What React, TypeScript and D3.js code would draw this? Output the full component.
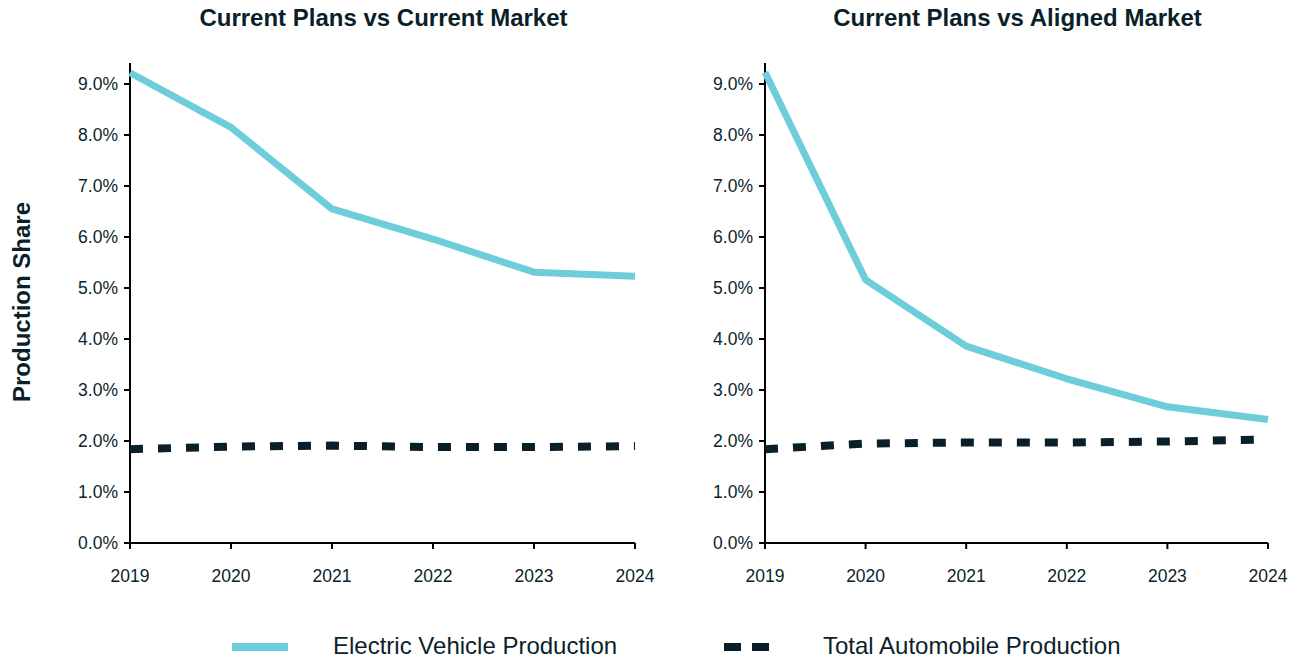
import React from "react";
import * as d3 from "d3";

const years = [2019, 2020, 2021, 2022, 2023, 2024];
const yTicks = [0, 1, 2, 3, 4, 5, 6, 7, 8, 9];
const leftEV = [9.22, 8.15, 6.55, 5.96, 5.31, 5.23];
const leftTotal = [1.84, 1.89, 1.91, 1.88, 1.88, 1.9];
const rightEV = [9.23, 5.16, 3.86, 3.22, 2.67, 2.42];
const rightTotal = [1.84, 1.95, 1.97, 1.97, 1.99, 2.03];
const titles = ["Current Plans vs Current Market", "Current Plans vs Aligned Market"];
const seriesNames = ["Electric Vehicle Production", "Total Automobile Production"];

const EV_COLOR = "#6ecdda";
const DARK = "#0b1f2a";
const FONT = "'Liberation Sans', Arial, sans-serif";

function Panel({ x0, x1, title, ev, total }: { x0: number; x1: number; title: string; ev: number[]; total: number[] }) {
  const x = d3.scalePoint<number>().domain(years).range([x0, x1]);
  const y = d3.scaleLinear().domain([0, 9]).range([543, 84]);
  const line = d3
    .line<number>()
    .x((_, i) => x(years[i])!)
    .y((d) => y(d));
  return (
    <g>
      <text x={(x0 + x1) / 2 + 1} y={26} textAnchor="middle" fontSize={24} fontWeight="bold" fill={DARK} fontFamily={FONT}>
        {title}
      </text>
      <line x1={x0} x2={x0} y1={63} y2={543} stroke="#000" strokeWidth={2} />
      <line x1={x0} x2={x1} y1={543} y2={543} stroke="#000" strokeWidth={2} />
      {yTicks.map((t) => (
        <g key={t}>
          <line x1={x0 - 6} x2={x0} y1={y(t)} y2={y(t)} stroke="#000" strokeWidth={2} />
          <text x={x0 - 12} y={y(t)} dy="0.35em" textAnchor="end" fontSize={17.5} fill={DARK} fontFamily={FONT}>
            {t.toFixed(1) + "%"}
          </text>
        </g>
      ))}
      {years.map((yr) => (
        <g key={yr}>
          <line x1={x(yr)} x2={x(yr)} y1={543} y2={549} stroke="#000" strokeWidth={2} />
          <text x={x(yr)} y={582} textAnchor="middle" fontSize={17.5} fill={DARK} fontFamily={FONT}>
            {yr}
          </text>
        </g>
      ))}
      <path d={line(total)!} fill="none" stroke={DARK} strokeWidth={8} strokeDasharray="13,15" />
      <path d={line(ev)!} fill="none" stroke={EV_COLOR} strokeWidth={7} strokeLinejoin="round" />
    </g>
  );
}

export default function App() {
  return (
    <svg width={1299} height={659} style={{ position: "absolute", left: 0, top: 0, background: "#fff" }}>
      <rect width={1299} height={659} fill="#fff" />
      <Panel x0={130} x1={635} title={titles[0]} ev={leftEV} total={leftTotal} />
      <Panel x0={765} x1={1268} title={titles[1]} ev={rightEV} total={rightTotal} />
      <text
        transform="translate(30,302) rotate(-90)"
        textAnchor="middle"
        fontSize={24}
        fontWeight="bold"
        fill={DARK}
        fontFamily={FONT}
      >
        Production Share
      </text>
      <line x1={232} x2={288} y1={647} y2={647} stroke={EV_COLOR} strokeWidth={8} />
      <text x={333} y={654} fontSize={24} fill={DARK} fontFamily={FONT}>
        {seriesNames[0]}
      </text>
      <line x1={724} x2={769} y1={647} y2={647} stroke={DARK} strokeWidth={8} strokeDasharray="17,11" />
      <text x={823} y={654} fontSize={24} fill={DARK} fontFamily={FONT}>
        {seriesNames[1]}
      </text>
    </svg>
  );
}
